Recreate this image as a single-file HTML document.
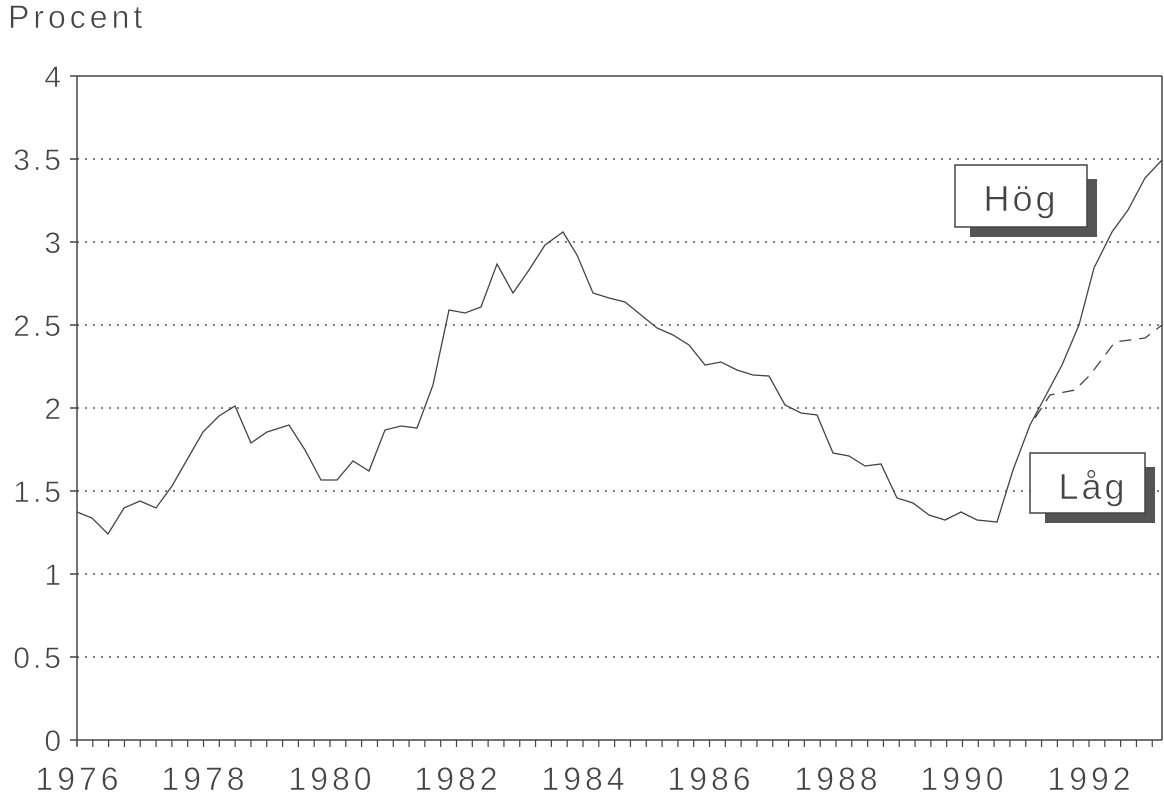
<!DOCTYPE html>
<html><head><meta charset="utf-8"><style>body{margin:0;background:#fff}svg{display:block}text{font-family:"Liberation Sans",sans-serif;fill:#444;stroke:#fff;stroke-width:0.6;paint-order:normal}</style></head><body>
<svg width="1164" height="794" viewBox="0 0 1164 794">
<text x="8" y="28" font-size="32" letter-spacing="4">Procent</text>
<g stroke="#555" stroke-width="1.5" stroke-dasharray="2,6">
<line x1="77" x2="1162" y1="159" y2="159"/><line x1="77" x2="1162" y1="242" y2="242"/><line x1="77" x2="1162" y1="325" y2="325"/><line x1="77" x2="1162" y1="408" y2="408"/><line x1="77" x2="1162" y1="491" y2="491"/><line x1="77" x2="1162" y1="574" y2="574"/><line x1="77" x2="1162" y1="657" y2="657"/>
</g>
<g stroke="#444" stroke-width="1.5" fill="none">
<line x1="77" y1="76" x2="1162" y2="76"/><line x1="1162" y1="76" x2="1162" y2="740"/><line x1="77" y1="76" x2="77" y2="746"/><line x1="70" y1="740" x2="1162" y2="740"/>
<line x1="70" y1="76" x2="77" y2="76"/><line x1="70" y1="159" x2="77" y2="159"/><line x1="70" y1="242" x2="77" y2="242"/><line x1="70" y1="325" x2="77" y2="325"/><line x1="70" y1="408" x2="77" y2="408"/><line x1="70" y1="491" x2="77" y2="491"/><line x1="70" y1="574" x2="77" y2="574"/><line x1="70" y1="657" x2="77" y2="657"/>
</g>
<g stroke="#444" stroke-width="1.2" id="ticks"></g>
<g font-size="30" text-anchor="end" letter-spacing="3">
<text x="64" y="87">4</text><text x="64" y="170">3.5</text><text x="64" y="253">3</text><text x="64" y="336">2.5</text><text x="64" y="419">2</text><text x="64" y="502">1.5</text><text x="64" y="585">1</text><text x="64" y="668">0.5</text><text x="64" y="751">0</text>
</g>
<g font-size="32" text-anchor="middle" letter-spacing="4">
<text x="79" y="790">1976</text><text x="205" y="790">1978</text><text x="332" y="790">1980</text><text x="458" y="790">1982</text><text x="585" y="790">1984</text><text x="711" y="790">1986</text><text x="838" y="790">1988</text><text x="964" y="790">1990</text><text x="1091" y="790">1992</text>
</g>
<polyline fill="none" stroke="#444" stroke-width="1.3" points="77,512 92,518 108,534 124,508 140,501 156,508 172,486 188,458 203,432 219,416 235,406 251,443 267,432 289,425 305,450 321,480 337,480 353,461 369,471 385,430 401,426 417,428 433,385 449,310 465,313 481,307 497,264 513,293 529,270 545,245 563,232 577,255 593,293 609,298 625,302 641,315 657,328 673,335 689,345 705,365 721,362 737,370 753,375 769,376 785,405 801,413 817,415 833,453 849,456 865,466 881,464 897,498 913,503 929,515 945,520 961,512 977,520 997,522 1013,470 1030,425 1045,397 1062,365 1079,325 1094,268 1112,232 1128,210 1145,178 1162,160"/>
<polyline fill="none" stroke="#444" stroke-width="1.3" stroke-dasharray="12,8" points="1035,418 1050,395 1075,390 1090,375 1115,342 1130,340 1145,338 1162,325"/>
<rect x="970" y="179" width="127" height="58" fill="#555"/>
<rect x="955" y="165" width="132" height="62" fill="#fff" stroke="#444" stroke-width="1.5"/>
<text x="1021" y="211" font-size="36" text-anchor="middle" letter-spacing="3">Hög</text>
<rect x="1045" y="467" width="110" height="56" fill="#555"/>
<rect x="1030" y="453" width="115" height="60" fill="#fff" stroke="#444" stroke-width="1.5"/>
<text x="1093" y="499" font-size="36" text-anchor="middle" letter-spacing="3">Låg</text>
</svg>
<script>
var g=document.getElementById('ticks'),s='';
for(var i=0;i<=68;i++){var x=77+i*63.25/4;if(x>1162)break;s+='<line x1="'+x+'" y1="740" x2="'+x+'" y2="747"/>';}
g.innerHTML=s;
</script>
</body></html>
